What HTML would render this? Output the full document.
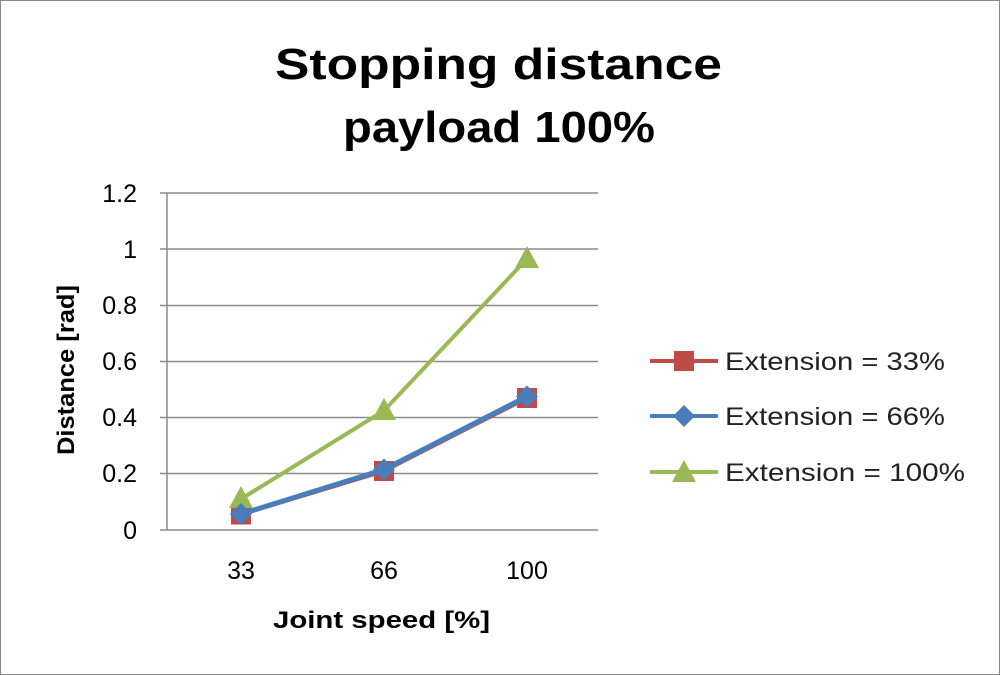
<!DOCTYPE html>
<html><head><style>body{margin:0;background:#fff}svg{display:block}</style></head><body>
<svg width="1000" height="675" xmlns="http://www.w3.org/2000/svg" font-family="'Liberation Sans', sans-serif">
<rect x="0.5" y="0.5" width="999" height="674" fill="#fff" stroke="#888" stroke-width="1"/>
<text x="275" y="79" font-size="44" font-weight="bold" fill="#000" textLength="447" lengthAdjust="spacingAndGlyphs">Stopping distance</text>
<text x="343" y="142" font-size="44" font-weight="bold" fill="#000" textLength="312" lengthAdjust="spacingAndGlyphs">payload 100%</text>
<g stroke="#8c8c8c" stroke-width="1.5">
<line x1="160" y1="193" x2="598" y2="193"/>
<line x1="160" y1="249" x2="598" y2="249"/>
<line x1="160" y1="305.5" x2="598" y2="305.5"/>
<line x1="160" y1="361.5" x2="598" y2="361.5"/>
<line x1="160" y1="417.5" x2="598" y2="417.5"/>
<line x1="160" y1="473.5" x2="598" y2="473.5"/>
<line x1="160" y1="530" x2="598" y2="530"/>
<line x1="167" y1="193" x2="167" y2="530"/>
</g>
<g font-size="25" fill="#000" text-anchor="end">
<text x="137" y="202">1.2</text><text x="137" y="258">1</text><text x="137" y="314">0.8</text>
<text x="137" y="370">0.6</text><text x="137" y="426">0.4</text><text x="137" y="482">0.2</text><text x="137" y="539">0</text>
</g>
<g font-size="25" fill="#000" text-anchor="middle">
<text x="241" y="579">33</text><text x="384" y="579">66</text><text x="527" y="579">100</text>
</g>
<text x="273" y="628" font-size="24" font-weight="bold" textLength="217" lengthAdjust="spacingAndGlyphs">Joint speed [%]</text>
<text transform="translate(74,455) rotate(-90)" font-size="24" font-weight="bold" textLength="170" lengthAdjust="spacingAndGlyphs">Distance [rad]</text>
<polyline points="241,514.5 384,471 527,398" fill="none" stroke="#be4b48" stroke-width="4"/>
<g fill="#be4b48"><rect x="231" y="504.5" width="20" height="20"/><rect x="374" y="461" width="20" height="20"/><rect x="517" y="388" width="20" height="20"/></g>
<polyline points="241,499 384,410.6 527,258.8" fill="none" stroke="#98b954" stroke-width="4"/>
<g fill="#98b954"><polygon points="241,486 253,508 229,508"/><polygon points="384,398 396,420 372,420"/><polygon points="527,246 539,268 515,268"/></g>
<polyline points="241,514 384,469.5 527,396.5" fill="none" stroke="#4a7ebb" stroke-width="5"/>
<g fill="#4a7ebb"><polygon points="241,503 252,514 241,525 230,514"/><polygon points="384,458.5 395,469.5 384,480.5 373,469.5"/><polygon points="527,385.5 538,396.5 527,407.5 516,396.5"/></g>
<line x1="650" y1="361" x2="718" y2="361" stroke="#be4b48" stroke-width="4"/>
<rect x="674" y="351" width="20" height="20" fill="#be4b48"/>
<line x1="650" y1="416" x2="718" y2="416" stroke="#4a7ebb" stroke-width="4"/>
<polygon points="684,405 695,416 684,427 673,416" fill="#4a7ebb"/>
<line x1="650" y1="472" x2="718" y2="472" stroke="#98b954" stroke-width="4"/>
<polygon points="684,460 696,482 672,482" fill="#98b954"/>
<g font-size="25" fill="#222">
<text x="725" y="370" textLength="220" lengthAdjust="spacingAndGlyphs">Extension = 33%</text>
<text x="725" y="425" textLength="220" lengthAdjust="spacingAndGlyphs">Extension = 66%</text>
<text x="725" y="481" textLength="240" lengthAdjust="spacingAndGlyphs">Extension = 100%</text>
</g>
</svg>
</body></html>
